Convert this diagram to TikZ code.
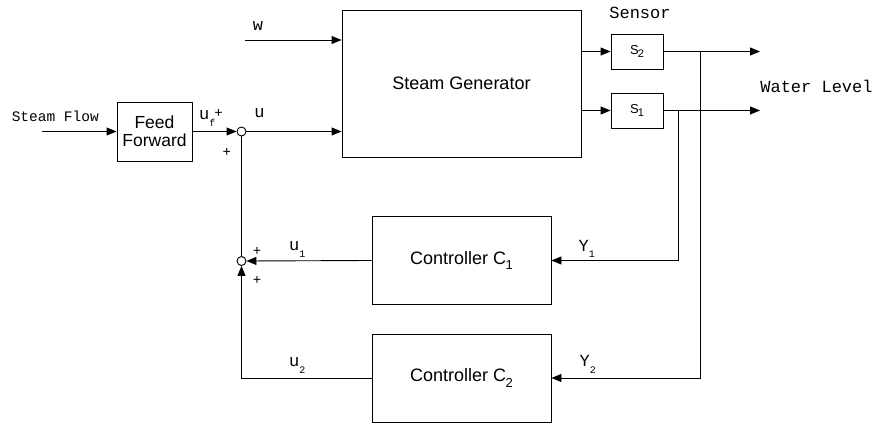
\documentclass[tikz,border=0pt]{standalone}
\usepackage{fontspec}
\setmainfont{Liberation Sans}
\newfontfamily\monof{Liberation Mono}
\usetikzlibrary{arrows.meta}
\newcommand\msub[2]{#1\raisebox{-0.4em}{\fontsize{10}{10}\selectfont #2}}
\newcommand\bsub[2]{#1\kern-1pt\raisebox{-0.3em}{\fontsize{11}{11}\selectfont #2}}
\tikzset{
  blk/.style={draw, line width=0.9pt, inner sep=0pt, font=\fontsize{18}{21}\selectfont, align=center},
  sumc/.style={draw, circle, line width=0.9pt, fill=white, inner sep=0pt, minimum size=9pt},
  ln/.style={line width=0.9pt},
  arr/.style={line width=0.9pt, -{Triangle[length=10pt,width=8pt]}},
  lab/.style={inner sep=0pt, font=\monof\fontsize{17}{17}\selectfont},
  slab/.style={inner sep=0pt, font=\monof\fontsize{14.5}{14.5}\selectfont},
}
\begin{document}
\begin{tikzpicture}[x=1pt,y=-1pt]
\useasboundingbox (0,0) rectangle (879,427);
% blocks
\node[blk, minimum width=239pt, minimum height=147pt] (SG) at (461.5,83.5) {Steam Generator};
\node[blk, minimum width=75pt, minimum height=59pt, font=\fontsize{17.5}{20}\selectfont] (FF) at (154.5,131.5) {Feed\\[-2pt]Forward};
\node[blk, minimum width=52pt, minimum height=35pt, font=\fontsize{13}{13}\selectfont] (S2) at (637,51.5) {\bsub{S}{2}};
\node[blk, minimum width=52pt, minimum height=35pt, font=\fontsize{13}{13}\selectfont] (S1) at (637,110.5) {\bsub{S}{1}};
\node[blk, minimum width=179pt, minimum height=88pt] (C1) at (461.5,260.5) {Controller C\kern-0.5pt\raisebox{-0.3em}{\fontsize{13}{13}\selectfont 1}};
\node[blk, minimum width=179pt, minimum height=88pt] (C2) at (461.5,378) {Controller C\kern-0.5pt\raisebox{-0.3em}{\fontsize{13}{13}\selectfont 2}};
% summing junctions
\node[sumc] (sum1) at (241.5,131.5) {};
\node[sumc] (sum2) at (241.5,261) {};
% free ends
\coordinate (sf) at (42,131.5);
\coordinate (win) at (245,40);
\coordinate (out2) at (760,51.5);
\coordinate (out1) at (760,110.5);
\coordinate (j1) at (678,110.5);
\coordinate (j2) at (700,51.5);
% connectors
\draw[arr] (sf) -- (FF.west);
\draw[arr] (FF.east) -- (sum1.west);
\draw[arr] (sum1.east) -- (sum1.east -| SG.west);
\draw[arr] (win) -- (win -| SG.west);
\draw[arr] (SG.east |- S2.west) -- (S2.west);
\draw[arr] (SG.east |- S1.west) -- (S1.west);
\draw[arr] (S2.east) -- (out2);
\draw[arr] (S1.east) -- (out1);
\draw[arr] (j1) |- (C1.east);
\draw[arr] (j2) |- (C2.east);
\draw[arr] (C1.west) -- (sum2.east);
\draw[arr] (C2.west) -| (sum2.south);
\draw[ln] (sum2.north) -- (sum1.south);
% labels
\node[slab] (lsf) at (55.3,116) {Steam Flow};
\node[lab] (lsen) at (640,12.5) {Sensor};
\node[lab] (lwl) at (816.5,86.5) {Water Level};
\node[lab] (lw) at (258,26) {w};
\node[lab] (lu) at (259.5,113) {u};
\node[lab, anchor=west] (luf) at (199,118) {\msub{u}{f}\kern-1pt\raisebox{0.1em}{\fontsize{14}{14}\selectfont+}};
\node[lab, font=\monof\fontsize{14}{14}\selectfont] (p1) at (226.7,152) {+};
\node[lab, font=\monof\fontsize{14}{14}\selectfont] (p2) at (257,251) {+};
\node[lab, font=\monof\fontsize{14}{14}\selectfont] (p3) at (257,280) {+};
\node[lab, anchor=west] (lu1) at (289,249.5) {\msub{u}{1}};
\node[lab, anchor=west] (lu2) at (289,365.5) {\msub{u}{2}};
\node[lab, anchor=west] (ly1) at (578.5,249) {\msub{Y}{1}};
\node[lab, anchor=west] (ly2) at (579.5,364.5) {\msub{Y}{2}};
\end{tikzpicture}
\end{document}
